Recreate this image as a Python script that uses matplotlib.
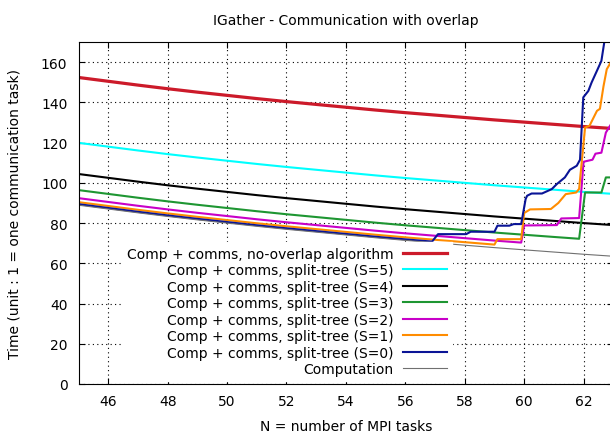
import matplotlib
matplotlib.use("Agg")
from matplotlib import pyplot as plt

# integer N values used by the smooth curves
n_int = [45, 46, 47, 48, 49, 50, 51, 52, 53, 54, 55, 56, 57, 58, 59, 60, 61, 62, 63]

computation = [88.9, 87.0, 85.1, 83.3, 81.6, 80.0, 78.4, 76.9, 75.5, 74.1,
               72.7, 71.4, 70.2, 69.0, 67.8, 66.7, 65.6, 64.5, 63.5]
no_overlap = [152.4, 150.5, 148.6, 146.8, 145.1, 143.5, 141.9, 140.4, 139.0, 137.6,
              136.2, 134.9, 133.7, 132.5, 131.3, 130.2, 129.1, 128.0, 127.0]
s5 = [119.9, 118.0, 116.1, 114.3, 112.6, 111.0, 109.4, 107.9, 106.5, 105.1,
      103.7, 102.4, 101.2, 100.0, 98.8, 97.7, 96.6, 95.5, 94.5]
s4 = [104.4, 102.5, 100.6, 98.8, 97.1, 95.5, 93.9, 92.4, 91.0, 89.6,
      88.2, 86.9, 85.7, 84.5, 83.3, 82.2, 81.1, 80.0, 79.0]

s3_n = [45, 46, 47, 48, 49, 50, 51, 52, 53, 54, 55, 56, 57, 58, 59, 60, 61,
        61.85, 62.05, 62.6, 62.75, 63]
s3 = [96.4, 94.5, 92.6, 90.8, 89.1, 87.5, 85.9, 84.4, 83.0, 81.6, 80.2, 78.9,
      77.7, 76.5, 75.3, 74.2, 73.1, 72.2, 95.2, 95.2, 102.7, 102.7]

s2_n = [45, 46, 47, 48, 49, 50, 51, 52, 53, 54, 55, 56, 57, 58, 59,
        59.9, 60.0, 61.1, 61.25, 61.85, 62.0, 62.3, 62.4, 62.6, 62.75, 63]
s2 = [92.4, 90.5, 88.6, 86.8, 85.1, 83.5, 81.9, 80.4, 79.0, 77.6, 76.2, 74.9,
      73.7, 72.5, 71.3, 70.3, 78.8, 79.0, 82.3, 82.5, 110.5, 111.5, 114.5,
      115.0, 125.0, 131.0]

s1_n = [45, 46, 47, 48, 49, 50, 51, 52, 53, 54, 55, 56, 57, 58, 59,
        59.1, 59.9, 60.0, 60.2, 60.9, 61.15, 61.4, 61.75, 61.85, 62.05, 62.2,
        62.45, 62.55, 62.67, 62.78, 63]
s1 = [90.4, 88.5, 86.6, 84.8, 83.1, 81.5, 79.9, 78.4, 77.0, 75.6, 74.2, 72.9,
      71.7, 70.5, 69.3, 72.0, 72.0, 85.0, 86.8, 87.0, 90.0, 94.4, 95.2, 97.0,
      127.5, 128.4, 135.8, 136.8, 148.0, 156.5, 162.0]

s0_n = [45, 46, 47, 48, 49, 50, 51, 52, 53, 54, 55, 56,
        56.9, 57.1, 58.05, 58.2, 59.0, 59.1, 59.5, 59.65, 59.9, 60.05, 60.1,
        60.25, 60.6, 60.93, 61.1, 61.37, 61.54, 61.77, 61.88, 61.99, 62.16,
        62.27, 62.55, 62.6, 62.75]
s0 = [89.4, 87.5, 85.6, 83.8, 82.1, 80.5, 78.9, 77.4, 76.0, 74.6, 73.2, 71.9,
      70.8, 74.5, 74.5, 75.7, 75.7, 78.7, 78.7, 79.5, 79.5, 92.0, 93.6,
      94.7, 94.7, 96.9, 99.4, 102.7, 106.5, 108.5, 111.5, 142.5, 145.7,
      149.9, 159.0, 160.7, 175.0]

fig = plt.figure(figsize=(6.1, 4.35), dpi=100)
ax = fig.add_axes([0.1287, 0.115, 0.8767, 0.786])

ax.plot(n_int, no_overlap, color='#cc1a2a', lw=2.3, label='Comp + comms, no-overlap algorithm')
ax.plot(n_int, s5, color='#00ffff', lw=1.5, label='Comp + comms, split-tree (S=5)')
ax.plot(n_int, s4, color='black', lw=1.5, label='Comp + comms, split-tree (S=4)')
ax.plot(s3_n, s3, color='#1e9632', lw=1.5, label='Comp + comms, split-tree (S=3)')
ax.plot(s2_n, s2, color='#c800c8', lw=1.5, label='Comp + comms, split-tree (S=2)')
ax.plot(s1_n, s1, color='#ff8c00', lw=1.5, label='Comp + comms, split-tree (S=1)')
ax.plot(s0_n, s0, color='#0a1496', lw=1.5, label='Comp + comms, split-tree (S=0)')
ax.plot(n_int, computation, color='#707070', lw=0.8, label='Computation')

ax.set_xlim(45, 63)
ax.set_ylim(0, 170)
ax.set_xticks([46, 48, 50, 52, 54, 56, 58, 60, 62])
ax.set_yticks([0, 20, 40, 60, 80, 100, 120, 140, 160])
ax.tick_params(direction='in', top=True, right=True, length=4, labelsize=10)
ax.tick_params(axis='x', pad=7)
ax.tick_params(axis='y', pad=8)
ax.grid(True, color='black', linestyle=(0, (1, 3)), linewidth=0.8)
ax.set_axisbelow(True)

ax.set_title('IGather - Communication with overlap', fontsize=10, pad=13)
ax.set_xlabel('N = number of MPI tasks', fontsize=10, labelpad=8)
ax.set_ylabel('Time (unit : 1 = one communication task)', fontsize=10, labelpad=14)

leg = ax.legend(loc='lower right', bbox_to_anchor=(452 / 610, 1 - 382 / 435),
                bbox_transform=fig.transFigure, markerfirst=False,
                fontsize=10, labelspacing=0.18, handlelength=3.2,
                handletextpad=0.65, borderpad=0.35, borderaxespad=0,
                fancybox=False, framealpha=1)
leg.get_frame().set_facecolor('white')
leg.get_frame().set_edgecolor('white')

fig.savefig('out.png', dpi=100)
